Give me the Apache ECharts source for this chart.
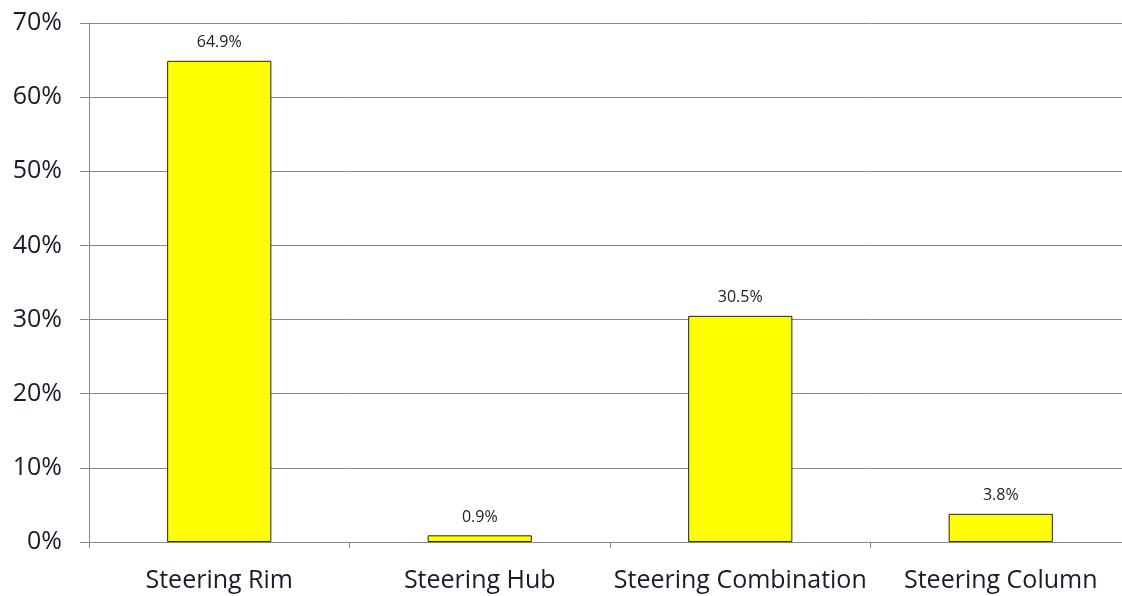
<!DOCTYPE html>
<html><head><meta charset="utf-8">
<script src="https://cdn.jsdelivr.net/npm/echarts@6/dist/echarts.min.js"></script>
<style>html,body{margin:0;padding:0;background:#fff;overflow:hidden;width:1122px;height:596px}#c{width:1140px;height:596px}</style>
</head><body><div id="c"></div>
<script>
var categories = ["Steering Rim", "Steering Hub", "Steering Combination", "Steering Column"];
var values = [64.9, 0.9, 30.5, 3.8];
var yTicks = [0, 10, 20, 30, 40, 50, 60, 70];

var FONT = '"Open Sans", sans-serif';
var chart = echarts.init(document.getElementById('c'));
chart.setOption({
  animation: false,
  grid: { left: 89, right: 9, top: 23, bottom: 54, containLabel: false },
  xAxis: {
    type: 'category', data: categories,
    axisLine: { lineStyle: { color: '#888', width: 1 } },
    axisTick: { show: true, length: 6, lineStyle: { color: '#888' } },
    axisLabel: { interval: 0, fontFamily: FONT, fontSize: 25, color: '#1a1a2a', margin: 26 }
  },
  yAxis: {
    type: 'value', min: 0, max: 70, interval: 10,
    axisLine: { show: true, lineStyle: { color: '#888', width: 1 } },
    axisTick: { show: true, length: 9, lineStyle: { color: '#888' } },
    splitLine: { show: true, lineStyle: { color: '#888', width: 1 } },
    axisLabel: { fontFamily: FONT, fontSize: 25, color: '#1a1a2a', margin: 27,
      formatter: function (v) { return v + '%'; } }
  },
  series: [{
    type: 'bar', data: values, barWidth: '40%',
    itemStyle: { color: '#ffff00', borderColor: '#222', borderWidth: 1 },
    label: { show: true, position: 'top', distance: 10, fontFamily: FONT, fontSize: 16, color: '#222',
      formatter: function (p) { return p.value.toFixed(1) + '%'; } }
  }]
});
</script></body></html>
